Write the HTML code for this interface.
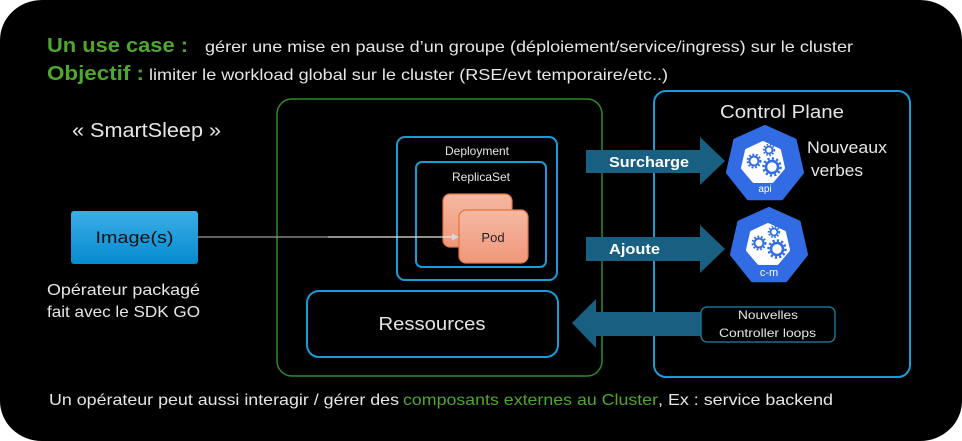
<!DOCTYPE html>
<html><head><meta charset="utf-8">
<style>
html,body{margin:0;padding:0;background:#fff;}
svg{display:block;}
text{font-family:"Liberation Sans",sans-serif;}
</style></head>
<body>
<svg width="962" height="441" viewBox="0 0 962 441" xmlns="http://www.w3.org/2000/svg">
<defs>
<linearGradient id="gImg" x1="0" y1="0" x2="0" y2="1">
<stop offset="0" stop-color="#3aaee6"/><stop offset="1" stop-color="#068bd0"/>
</linearGradient>
<linearGradient id="gPod" x1="0" y1="0" x2="0" y2="1">
<stop offset="0" stop-color="#f6b8a3"/><stop offset="1" stop-color="#f0977a"/>
</linearGradient>
</defs>
<rect x="0" y="0" width="962" height="441" rx="42" ry="40" fill="#000"/>

<!-- header -->
<text x="47" y="52" font-size="20" font-weight="bold" fill="#4ea72e" textLength="141" lengthAdjust="spacingAndGlyphs">Un use case :</text>
<text x="205" y="52" font-size="16" fill="#e6e6e6" textLength="648" lengthAdjust="spacingAndGlyphs">gérer une mise en pause d’un groupe (déploiement/service/ingress) sur le cluster</text>
<text x="47" y="80" font-size="20" font-weight="bold" fill="#4ea72e" textLength="97" lengthAdjust="spacingAndGlyphs">Objectif :</text>
<text x="149" y="80" font-size="16" fill="#e6e6e6" textLength="519" lengthAdjust="spacingAndGlyphs">limiter le workload global sur le cluster (RSE/evt temporaire/etc..)</text>

<text x="72" y="137" font-size="20" fill="#e6e6e6" textLength="149" lengthAdjust="spacingAndGlyphs">« SmartSleep »</text>

<!-- Image(s) -->
<rect x="71" y="211" width="127" height="53" rx="3" fill="url(#gImg)"/>
<text x="134.5" y="243" font-size="17" fill="#111" text-anchor="middle" textLength="78" lengthAdjust="spacingAndGlyphs">Image(s)</text>
<text x="47" y="295" font-size="16" fill="#e6e6e6" textLength="153" lengthAdjust="spacingAndGlyphs">Opérateur packagé</text>
<text x="47" y="317" font-size="16" fill="#e6e6e6" textLength="153" lengthAdjust="spacingAndGlyphs">fait avec le SDK GO</text>

<!-- cluster green box -->
<rect x="277" y="99" width="325" height="277" rx="15" fill="none" stroke="#2f8a2a" stroke-width="1.5"/>

<!-- Deployment -->
<rect x="397" y="137" width="160" height="143" rx="8" fill="none" stroke="#1a9ad6" stroke-width="2"/>
<text x="477" y="155" font-size="12" fill="#e6e6e6" text-anchor="middle">Deployment</text>
<rect x="416" y="162" width="130" height="105" rx="6" fill="none" stroke="#1a9ad6" stroke-width="2"/>
<text x="481" y="181" font-size="12" fill="#e6e6e6" text-anchor="middle">ReplicaSet</text>
<rect x="443" y="194" width="69" height="53" rx="7" fill="url(#gPod)" stroke="#e3763d" stroke-width="1.2"/>
<rect x="459" y="210" width="69" height="53" rx="7" fill="url(#gPod)" stroke="#e3763d" stroke-width="1.2"/>
<text x="493" y="242" font-size="13" fill="#222" text-anchor="middle">Pod</text>

<!-- line image -> pod -->
<line x1="198" y1="237" x2="328" y2="237" stroke="#9a9a9a" stroke-width="1.2"/>
<line x1="328" y1="237" x2="454" y2="237" stroke="#e8e8e8" stroke-width="1.2"/>
<polygon points="452,233.5 459,237 452,240.5" fill="#d8d8d8"/>

<!-- Ressources -->
<rect x="307" y="291" width="251" height="66" rx="12" fill="none" stroke="#1a9ad6" stroke-width="2"/>
<text x="432" y="330" font-size="18" fill="#e6e6e6" text-anchor="middle" textLength="107" lengthAdjust="spacingAndGlyphs">Ressources</text>

<!-- Control Plane -->
<rect x="654" y="91" width="256" height="286" rx="12" fill="none" stroke="#1a9ad6" stroke-width="2"/>
<text x="720" y="118" font-size="18" fill="#e6e6e6" textLength="124" lengthAdjust="spacingAndGlyphs">Control Plane</text>

<!-- arrows -->
<polygon points="586,150 700,150 700,137 725,161 700,185 700,173 586,173" fill="#185f82"/>
<text x="609" y="167" font-size="15" font-weight="bold" fill="#fff" textLength="80" lengthAdjust="spacingAndGlyphs">Surcharge</text>
<polygon points="586,237 700,237 700,225 725,249 700,273 700,261 586,261" fill="#185f82"/>
<text x="609" y="254" font-size="15" font-weight="bold" fill="#fff" textLength="51" lengthAdjust="spacingAndGlyphs">Ajoute</text>
<polygon points="572,323 596,299 596,312 712,312 712,336 596,336 596,348" fill="#185f82"/>

<rect x="701" y="307" width="134" height="35" rx="6" fill="#000" stroke="#1d6e90" stroke-width="1.5"/>
<text x="768" y="319" font-size="12" fill="#e6e6e6" text-anchor="middle" textLength="60" lengthAdjust="spacingAndGlyphs">Nouvelles</text>
<text x="767.5" y="337" font-size="12" fill="#e6e6e6" text-anchor="middle" textLength="97" lengthAdjust="spacingAndGlyphs">Controller loops</text>

<!-- api icon -->
<g>
<polygon points="765,127 794.7,140.3 802,172.5 781.5,198.2 748.5,198.2 728,172.5 735.3,140.3" fill="#326ce5" stroke="#326ce5" stroke-width="4" stroke-linejoin="round"/>
<polygon points="763,143 779,150.5 783,168 772,181 754,181 743,168 747,150.5" fill="#fff" stroke="#fff" stroke-width="4" stroke-linejoin="round"/>
<g fill="none" stroke="#326ce5">
<circle cx="772" cy="167" r="6" stroke-width="2.5"/>
<circle cx="772" cy="167" r="8.5" stroke-width="2.5" stroke-dasharray="2.2 2.2"/>
<circle cx="754" cy="161" r="4.5" stroke-width="2"/>
<circle cx="754" cy="161" r="6.5" stroke-width="2" stroke-dasharray="1.8 1.8"/>
<circle cx="769" cy="150" r="3.5" stroke-width="1.8"/>
<circle cx="769" cy="150" r="5.3" stroke-width="1.8" stroke-dasharray="1.6 1.6"/>
</g>
<text x="765" y="192" font-size="10" fill="#fff" text-anchor="middle">api</text>
</g>
<text x="807" y="153" font-size="17" fill="#e6e6e6" textLength="80" lengthAdjust="spacingAndGlyphs">Nouveaux</text>
<text x="811" y="176" font-size="17" fill="#e6e6e6" textLength="52" lengthAdjust="spacingAndGlyphs">verbes</text>

<!-- c-m icon -->
<g>
<polygon points="769,209 798.7,222.3 806,254.5 785.5,280.2 752.5,280.2 732,254.5 739.3,222.3" fill="#326ce5" stroke="#326ce5" stroke-width="4" stroke-linejoin="round"/>
<polygon points="768,225 784,232.5 788,250 777,263 759,263 748,250 752,232.5" fill="#fff" stroke="#fff" stroke-width="4" stroke-linejoin="round"/>
<g fill="none" stroke="#326ce5">
<circle cx="777" cy="249" r="6" stroke-width="2.5"/>
<circle cx="777" cy="249" r="8.5" stroke-width="2.5" stroke-dasharray="2.2 2.2"/>
<circle cx="759" cy="243" r="4.5" stroke-width="2"/>
<circle cx="759" cy="243" r="6.5" stroke-width="2" stroke-dasharray="1.8 1.8"/>
<circle cx="774" cy="232" r="3.5" stroke-width="1.8"/>
<circle cx="774" cy="232" r="5.3" stroke-width="1.8" stroke-dasharray="1.6 1.6"/>
</g>
<text x="769" y="276" font-size="11" fill="#fff" text-anchor="middle">c-m</text>
</g>

<!-- bottom text -->
<text x="49" y="405" font-size="16" fill="#e6e6e6" textLength="350" lengthAdjust="spacingAndGlyphs">Un opérateur peut aussi interagir / gérer des</text>
<text x="403" y="405" font-size="16" fill="#4ea72e" textLength="255" lengthAdjust="spacingAndGlyphs">composants externes au Cluster</text>
<text x="658" y="405" font-size="16" fill="#e6e6e6" textLength="175" lengthAdjust="spacingAndGlyphs">, Ex : service backend</text>
</svg>
</body></html>
